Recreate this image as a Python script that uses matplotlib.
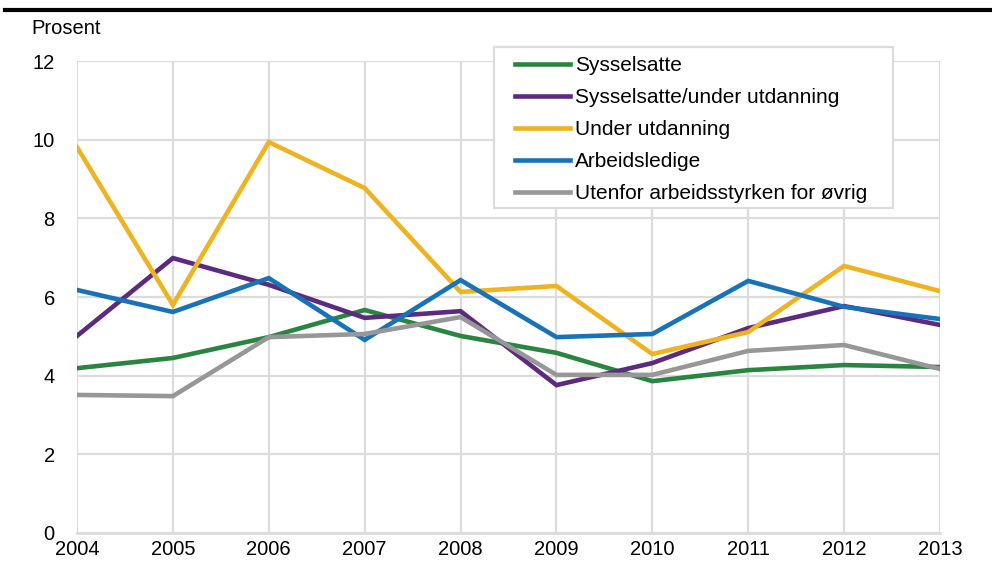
import matplotlib.pyplot as plt
from matplotlib.lines import Line2D
from matplotlib.patches import Rectangle

plt.rcParams["font.family"] = ["Liberation Sans", "DejaVu Sans"]

# Data (prosent)
years = [2004, 2005, 2006, 2007, 2008, 2009, 2010, 2011, 2012, 2013]
sysselsatte = [4.19, 4.45, 4.98, 5.67, 5.01, 4.58, 3.86, 4.14, 4.27, 4.22]
syss_utd = [5.01, 6.99, 6.31, 5.47, 5.64, 3.76, 4.32, 5.21, 5.77, 5.29]
under_utd = [9.81, 5.80, 9.94, 8.77, 6.13, 6.28, 4.55, 5.11, 6.79, 6.15]
arbeidsledige = [6.18, 5.62, 6.48, 4.91, 6.43, 4.98, 5.06, 6.41, 5.75, 5.44]
utenfor = [3.51, 3.48, 4.98, 5.06, 5.49, 4.02, 4.02, 4.63, 4.78, 4.17]

labels = ["Sysselsatte", "Sysselsatte/under utdanning", "Under utdanning",
          "Arbeidsledige", "Utenfor arbeidsstyrken for øvrig"]
colors = ["#2a8540", "#5c2a7e", "#efb322", "#1872b8", "#979797"]

fig = plt.figure(figsize=(9.92, 5.76), dpi=100)
ax = fig.add_axes([0.0776, 0.0747, 0.87, 0.8193])

# draw order: grey at the back
series = [sysselsatte, syss_utd, under_utd, arbeidsledige, utenfor]
order = [4, 0, 1, 2, 3]
for i in order:
    ax.plot(years, series[i], color=colors[i], lw=3.3, solid_joinstyle="miter",
            zorder=3 + i * 0.1)

ax.set_xlim(2004, 2013)
ax.set_ylim(0, 12)
ax.set_xticks(years)
ax.set_yticks(range(0, 13, 2))
ax.grid(True, color="#dcdcdc", lw=1.6)
ax.set_axisbelow(True)
for s in ["top", "right", "left"]:
    ax.spines[s].set_visible(False)
ax.spines["bottom"].set_color("#dcdcdc")
ax.spines["bottom"].set_linewidth(2)
ax.tick_params(length=0, labelsize=14.5, colors="black")
ax.tick_params(axis="x", pad=5)
ax.tick_params(axis="y", pad=16)

# legend box (frame drawn separately so padding can differ per side)
fig.add_artist(Rectangle((0.498, 0.639), 0.402, 0.2795, transform=fig.transFigure,
                         facecolor="white", edgecolor="#dcdcdc", lw=1.6, zorder=5))
handles = [Line2D([], [], color=c, lw=3.3) for c in colors]
leg = fig.legend(handles, labels, loc="upper left", bbox_to_anchor=(0.519, 0.903),
                 frameon=False, handlelength=2.65, handletextpad=0.25,
                 labelspacing=0.63, borderpad=0, borderaxespad=0, prop={"size": 15})
leg.set_zorder(6)

fig.text(0.032, 0.951, "Prosent", fontsize=14.5, va="center", ha="left")
fig.add_artist(Line2D([0.005, 0.998], [0.982, 0.982], color="black", lw=3,
                      transform=fig.transFigure))

fig.savefig("out.png", dpi=100, facecolor="white")
